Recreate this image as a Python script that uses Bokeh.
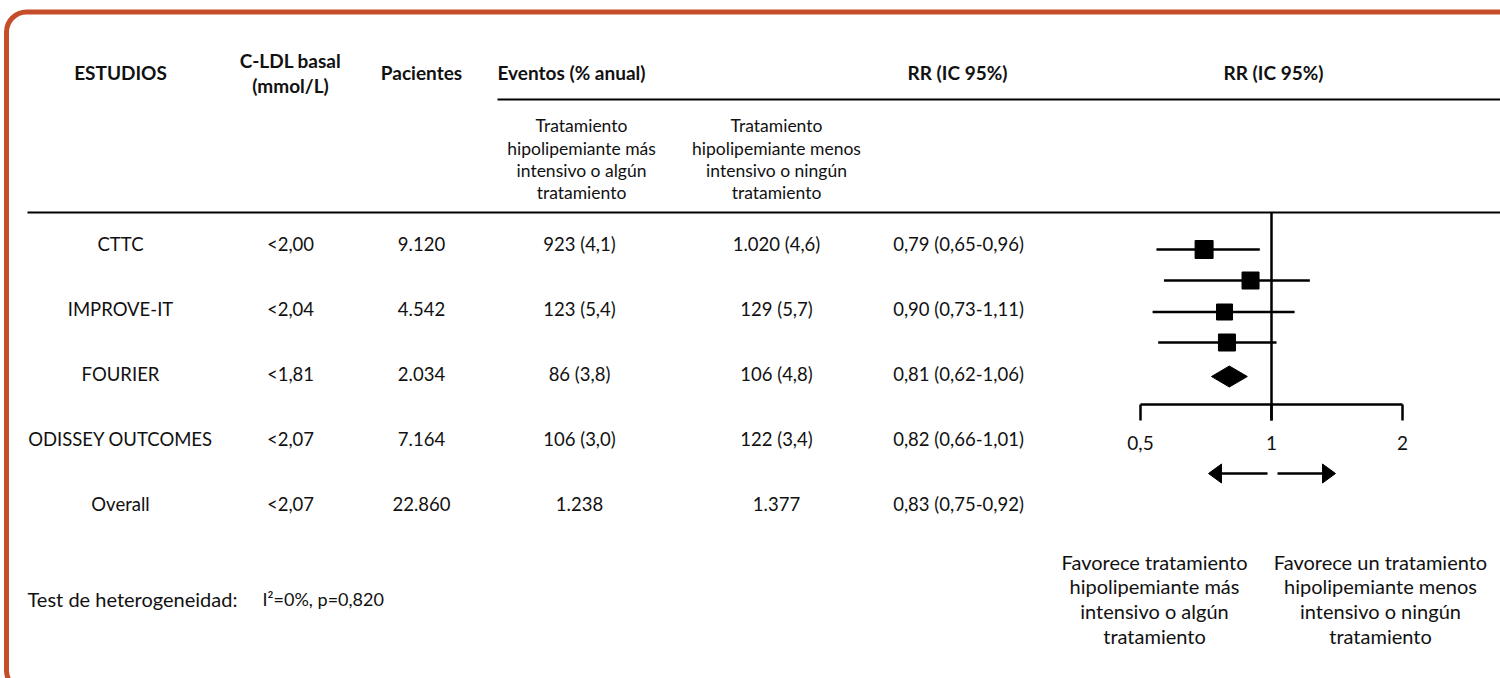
from bokeh.plotting import figure
from bokeh.models import Range1d, LogScale, BoxAnnotation
from bokeh.core.properties import value
from bokeh.embed import file_html
from bokeh.resources import INLINE

# ---------------- data ----------------
studies = ["CTTC", "IMPROVE-IT", "FOURIER", "ODISSEY OUTCOMES", "Overall"]
ldl_basal = ["<2,00", "<2,04", "<1,81", "<2,07", "<2,07"]
patients = ["9.120", "4.542", "2.034", "7.164", "22.860"]
events_more = ["923 (4,1)", "123 (5,4)", "86 (3,8)", "106 (3,0)", "1.238"]
events_less = ["1.020 (4,6)", "129 (5,7)", "106 (4,8)", "122 (3,4)", "1.377"]
rr_text = ["0,79 (0,65-0,96)", "0,90 (0,73-1,11)", "0,81 (0,62-1,06)",
           "0,82 (0,66-1,01)", "0,83 (0,75-0,92)"]

# forest plot, as drawn in the figure (RR, log scale)
rr_point = [0.70, 0.895, 0.78, 0.79]
rr_low = [0.544, 0.566, 0.533, 0.549]
rr_high = [0.94, 1.225, 1.13, 1.027]
overall_point = 0.80
overall_low = 0.728
overall_high = 0.88
axis_ticks = [0.5, 1, 2]
axis_tick_labels = ["0,5", "1", "2"]

heterogeneity_label = "Test de heterogeneidad:"
heterogeneity_value = "I\u00b2=0%, p=0,820"

# ---------------- layout constants ----------------
W, H = 1500, 678
FONT = "Lato"
BORDER = "#C64D2A"
INK = "#111111"

p = figure(width=W, height=H, output_backend="svg", toolbar_location=None,
           x_range=Range1d(0, W), y_range=Range1d(H, 0),
           min_border=0, outline_line_color=None)
p.axis.visible = False
p.grid.visible = False
p.background_fill_color = "white"
p.border_fill_color = "white"

# log scale for forest plot: 1 -> x=1271, 131 px per doubling
px1, oct_px = 1271.0, 131.0
lo_val = 2 ** ((0 - px1) / oct_px)
hi_val = 2 ** ((W - px1) / oct_px)
p.extra_x_ranges = {"rr": Range1d(lo_val, hi_val)}
p.extra_x_scales = {"rr": LogScale()}

# rounded border
p.add_layout(BoxAnnotation(left=6, right=1530, top=11.5, bottom=690,
                           border_radius=20, fill_alpha=0,
                           line_color=BORDER, line_alpha=1.0, line_width=5))

def txt(x, y, t, size="18px", bold=False, align="center"):
    p.text(x=x, y=y, text=t, text_font=value(FONT), text_font_size=size,
           text_font_style="bold" if bold else "normal",
           text_align=align, text_baseline="middle", text_color=INK)

# header
HS = "19px"
txt([120], [72], ["ESTUDIOS"], size=HS, bold=True)
txt([290, 290], [60, 85], ["C-LDL basal", "(mmol/L)"], size=HS, bold=True)
txt([421], [72], ["Pacientes"], size=HS, bold=True)
txt([497], [72], ["Eventos (% anual)"], size=HS, bold=True, align="left")
txt([957], [72], ["RR (IC 95%)"], size=HS, bold=True)
txt([1273], [72], ["RR (IC 95%)"], size=HS, bold=True)

sub_y = [125, 148, 170, 192]
txt([581] * 4, sub_y, ["Tratamiento", "hipolipemiante más",
                      "intensivo o algún", "tratamiento"], size="17.5px")
txt([776] * 4, sub_y, ["Tratamiento", "hipolipemiante menos",
                      "intensivo o ningún", "tratamiento"], size="17.5px")

# header rules
p.segment(x0=[497, 27], x1=[1500, 1500], y0=[99, 212], y1=[99, 212],
          line_color="black", line_width=2)

# table rows
row_y = [243, 308, 373, 438, 503]
for cx, col in [(120, studies), (290, ldl_basal), (421, patients),
                (579, events_more), (776, events_less), (958, rr_text)]:
    txt([cx] * len(col), row_y, col, size="18.5px")

# heterogeneity
txt([27], [598], [heterogeneity_label], size="20px", align="left")
txt([262], [598], [heterogeneity_value], size="18px", align="left")

# ---------------- forest plot ----------------
f_y = [249, 280, 311.5, 342]
diamond_y = 376
sq_sizes = [18, 17, 16, 17]

p.segment(x0=rr_low, x1=rr_high, y0=f_y, y1=f_y, x_range_name="rr",
          line_color="black", line_width=2.5)
p.scatter(x=rr_point, y=f_y, size=sq_sizes, marker="square", x_range_name="rr",
          fill_color="black", line_color="black")
p.patch(x=[overall_low, overall_point, overall_high, overall_point],
        y=[diamond_y, diamond_y - 10.5, diamond_y, diamond_y + 10.5],
        x_range_name="rr", fill_color="black", line_color="black")

# vertical line of no effect
p.segment(x0=[1], x1=[1], y0=[212], y1=[420], x_range_name="rr",
          line_color="black", line_width=2.5)
# axis
axis_y = 404
p.segment(x0=[axis_ticks[0]], x1=[axis_ticks[-1]], y0=[axis_y], y1=[axis_y],
          x_range_name="rr", line_color="black", line_width=2.5)
p.segment(x0=axis_ticks, x1=axis_ticks, y0=[axis_y] * 3, y1=[axis_y + 16] * 3,
          x_range_name="rr", line_color="black", line_width=2.5)
p.text(x=axis_ticks, y=[442] * 3, text=axis_tick_labels, x_range_name="rr",
       text_font=value(FONT), text_font_size="19px", text_align="center",
       text_baseline="middle", text_color=INK)

# direction arrows
ay = 473
p.segment(x0=[1267, 1277], x1=[1218, 1323], y0=[ay, ay], y1=[ay, ay],
          line_color="black", line_width=2.5)
p.patches(xs=[[1208, 1221, 1221], [1335, 1322, 1322]],
          ys=[[ay, ay - 9.5, ay + 9.5], [ay, ay - 9.5, ay + 9.5]],
          fill_color="black", line_color="black")

# favour labels
fav_y = [561, 585, 610, 635]
txt([1154] * 4, fav_y, ["Favorece tratamiento", "hipolipemiante más",
                        "intensivo o algún", "tratamiento"], size="20px")
txt([1380] * 4, fav_y, ["Favorece un tratamiento", "hipolipemiante menos",
                        "intensivo o ningún", "tratamiento"], size="20px")

open("out.html", "w").write(file_html(p, INLINE))
